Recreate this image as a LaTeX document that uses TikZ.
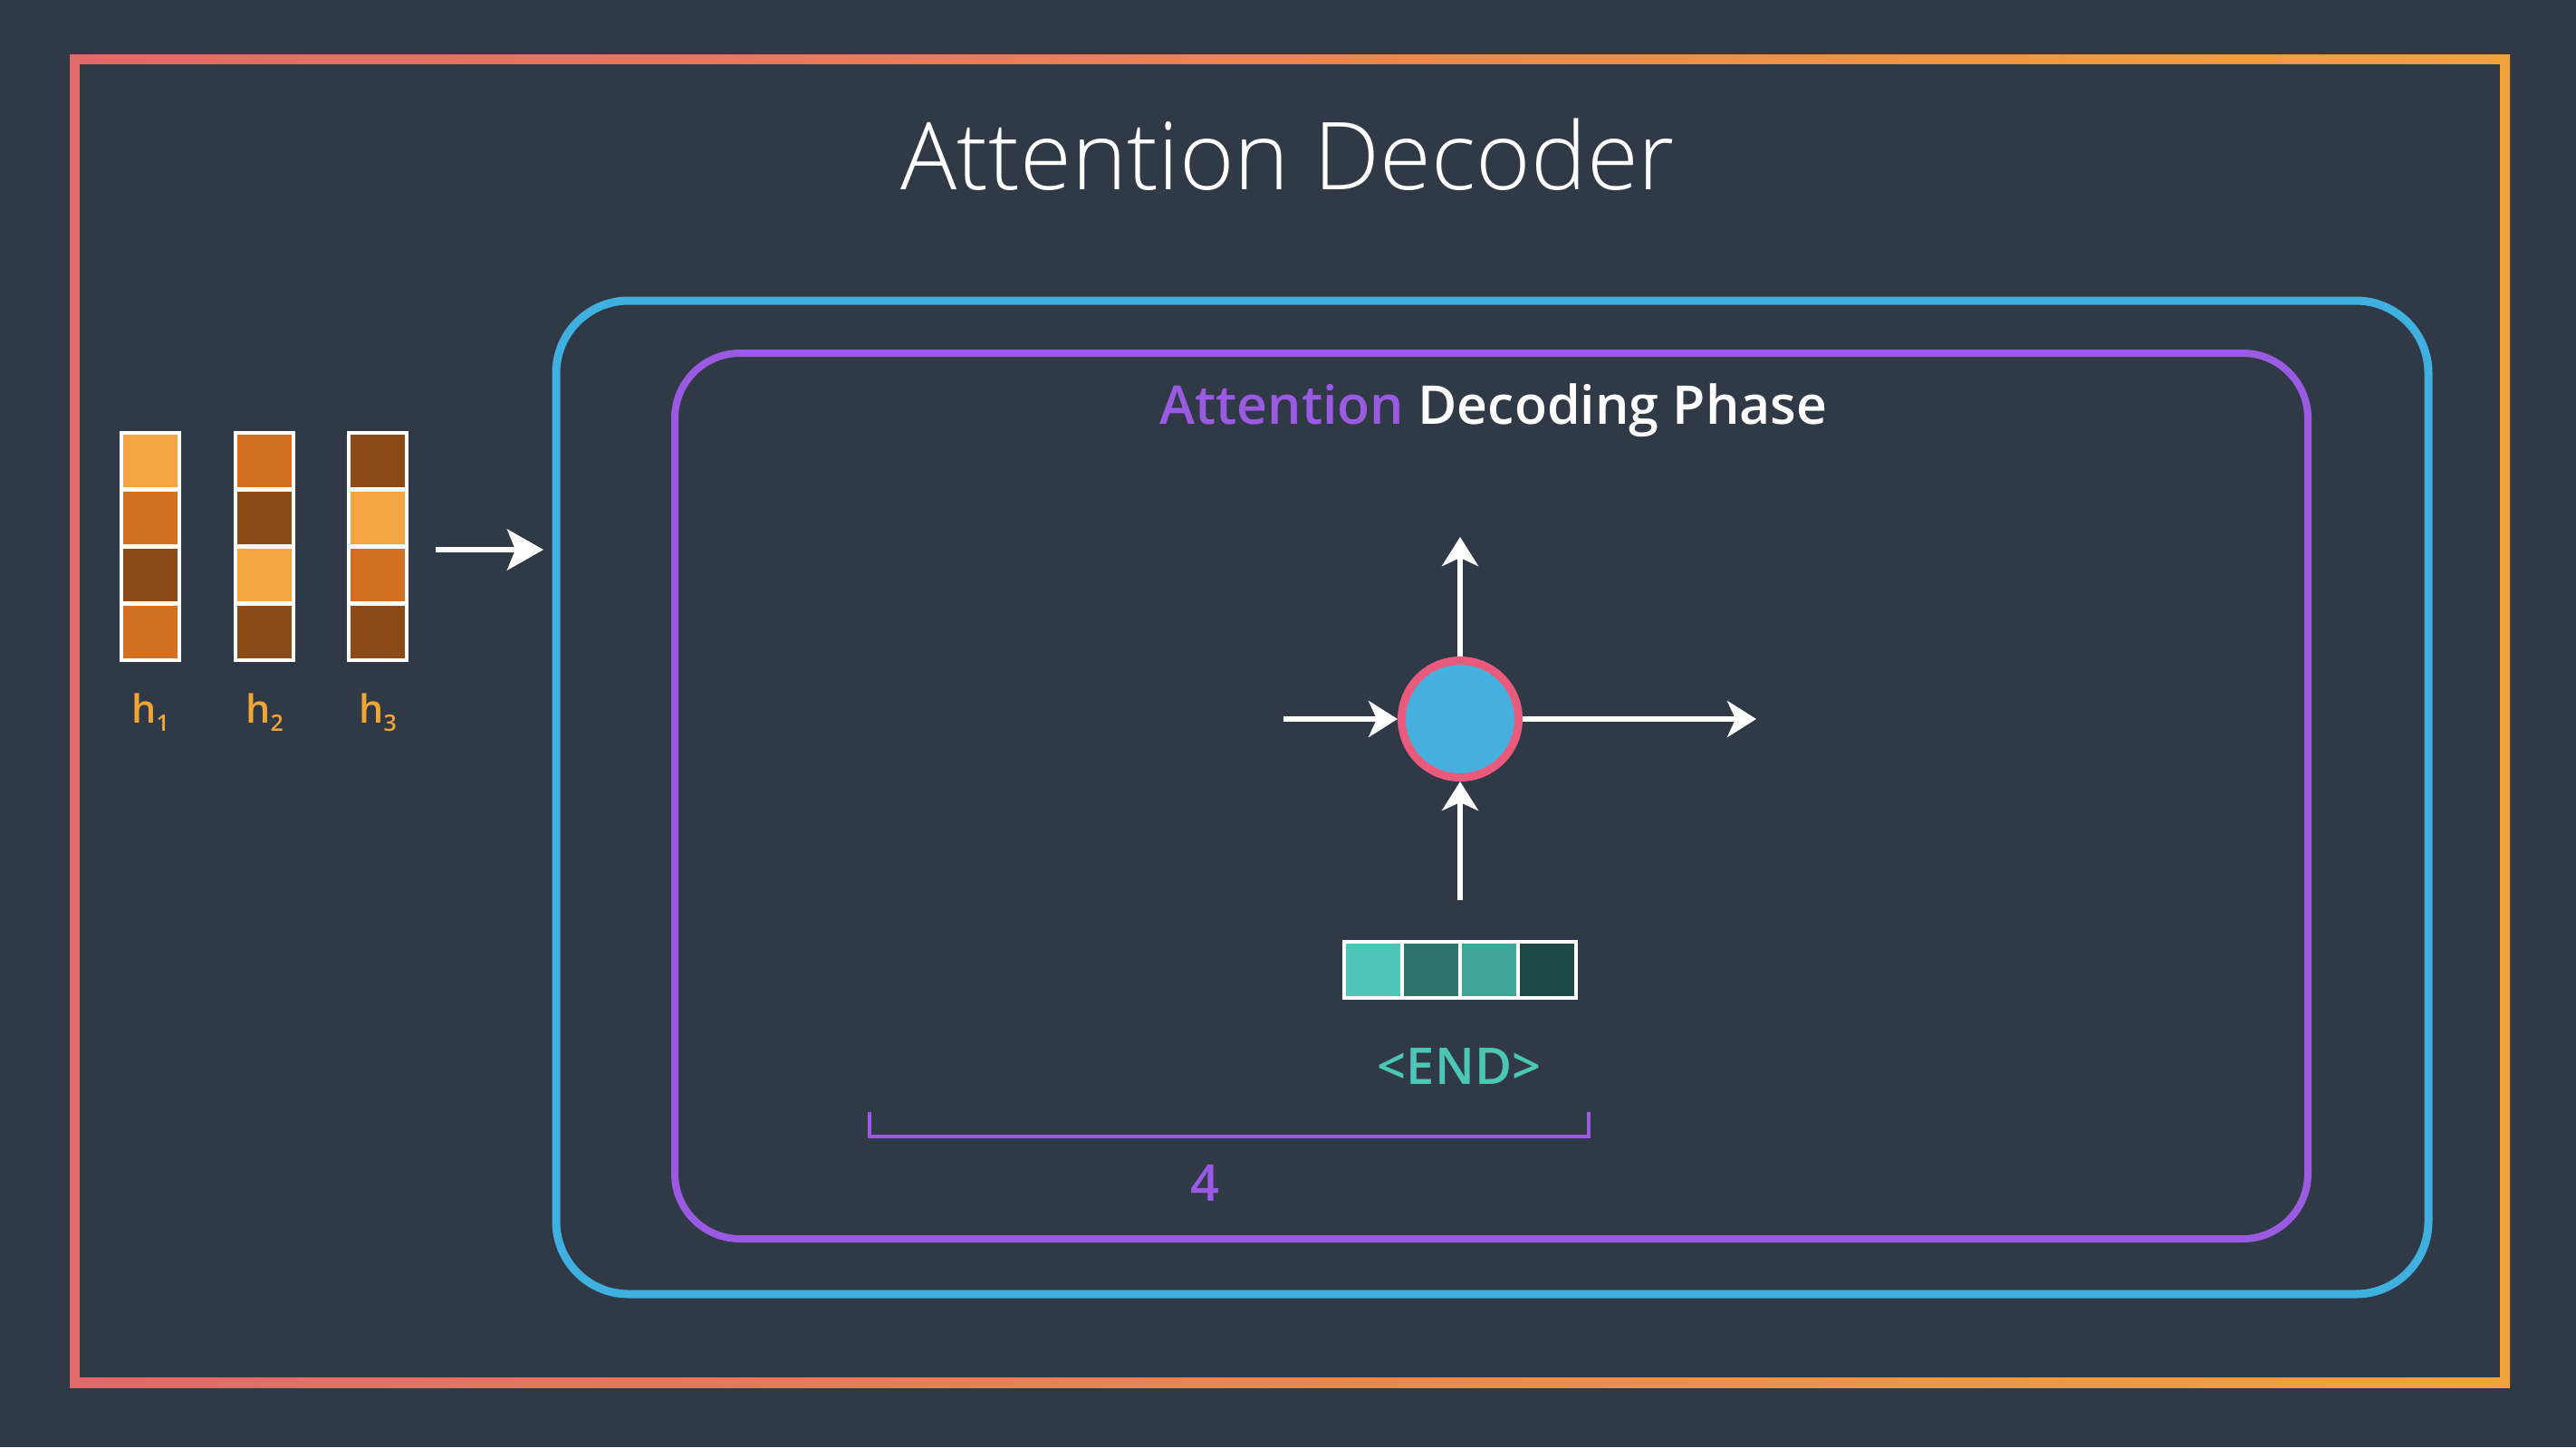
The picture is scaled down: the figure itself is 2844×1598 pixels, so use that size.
\documentclass[tikz,border=0pt]{standalone}
\usepackage{fontspec}
\setmainfont{Open Sans}
\newfontfamily\lightfont{Open Sans Light}
\newfontfamily\semifont{Open Sans Semibold}
\usetikzlibrary{arrows.meta}
\definecolor{bg}{HTML}{2F3A46}
\definecolor{frL}{HTML}{E2696A}
\definecolor{frR}{HTML}{F2A33C}
\definecolor{bluebox}{HTML}{3FB0E0}
\definecolor{purp}{HTML}{9B5AE2}
\definecolor{cblue}{HTML}{45B0DE}
\definecolor{cpink}{HTML}{E95A7C}
\definecolor{tealtext}{HTML}{4CC6B5}
\definecolor{oL}{HTML}{F2A541}
\definecolor{oM}{HTML}{D2701F}
\definecolor{oD}{HTML}{8B4A16}
\definecolor{t1}{HTML}{4DC6B8}
\definecolor{t2}{HTML}{2E746C}
\definecolor{t3}{HTML}{40A69A}
\definecolor{t4}{HTML}{1D4A46}
\definecolor{hlab}{HTML}{F0A535}
\tikzset{
  cellbox/.style={draw=white, line width=4pt, minimum width=64pt, minimum height=62pt, inner sep=0pt, outer sep=0pt},
  arr/.style={draw=white, line width=6pt, -{Stealth[length=32pt, width=40pt, inset=9pt]}},
  bigarr/.style={draw=white, line width=6pt, -{Stealth[length=40pt, width=45pt, inset=9pt]}},
  hl/.style={text=hlab, anchor=base, inner sep=0pt},
}
\begin{document}
\begin{tikzpicture}[x=1pt,y=-1pt]
\useasboundingbox (0,0) rectangle (2844,1598);
\fill[bg] (0,0) rectangle (2844,1598);
% gradient outer frame
\shade[left color=frL, right color=frR] (77,60) rectangle (2771,1532);
\fill[bg] (88,71) rectangle (2760,1521);
% blue box
\draw[bluebox, line width=9pt, rounded corners=80pt] (614,332) rectangle (2681,1429);
% purple box
\draw[purp, line width=8pt, rounded corners=72pt] (745,390) rectangle (2548,1368);
% title
\node[text=white, anchor=base, inner sep=0pt] (title) at (1422,209) {\lightfont\fontsize{103.5}{103.5}\selectfont Attention Decoder};
\node[text=white, anchor=base, inner sep=0pt] (sub) at (1649,468) {\semifont\fontsize{59}{59}\selectfont{\color{purp}Attention} Decoding Phase};
% h columns
\foreach \i/\x/\ca/\cb/\cc/\cd in {1/166/oL/oM/oD/oM, 2/292/oM/oD/oL/oD, 3/417/oD/oL/oM/oD}{
  \node[cellbox, fill=\ca] (h\i a) at (\x,509) {};
  \node[cellbox, fill=\cb] (h\i b) at (\x,572) {};
  \node[cellbox, fill=\cc] (h\i c) at (\x,635) {};
  \node[cellbox, fill=\cd] (h\i d) at (\x,698) {};
  \node[hl] (hl\i) at (\x,798) {\semifont\fontsize{43}{43}\selectfont h\raisebox{-9pt}{\fontsize{25}{25}\selectfont\i}};
}
\coordinate (hs) at (481,607);
\coordinate (he) at (600,607);
\draw[bigarr] (hs) -- (he);
% decoder cell
\node[circle, fill=cblue, draw=cpink, line width=9pt, minimum size=129pt, inner sep=0pt] (cell) at (1612,794) {};
\coordinate (up) at (1612,593);
\coordinate (lin) at (1417,794);
\coordinate (rout) at (1939,794);
\coordinate (bin) at (1612,994);
\draw[arr] (cell) -- (up);
\draw[arr] (lin) -- (cell);
\draw[arr] (cell) -- (rout);
\draw[arr] (bin) -- (cell);
% teal vector
\node[cellbox, fill=t1] (v1) at (1516,1071) {};
\node[cellbox, fill=t2] (v2) at (1580,1071) {};
\node[cellbox, fill=t3] (v3) at (1644,1071) {};
\node[cellbox, fill=t4] (v4) at (1708,1071) {};
\node[text=tealtext, anchor=base, inner sep=0pt] (endlab) at (1611,1197) {\semifont\fontsize{56}{56}\selectfont <END>};
% bracket
\draw[purp, line width=4.5pt] (960,1228) -- (960,1255) -- (1754,1255) -- (1754,1228);
\node[text=purp, anchor=base, inner sep=0pt] (four) at (1330,1326) {\semifont\fontsize{56}{56}\selectfont 4};
\end{tikzpicture}
\end{document}
